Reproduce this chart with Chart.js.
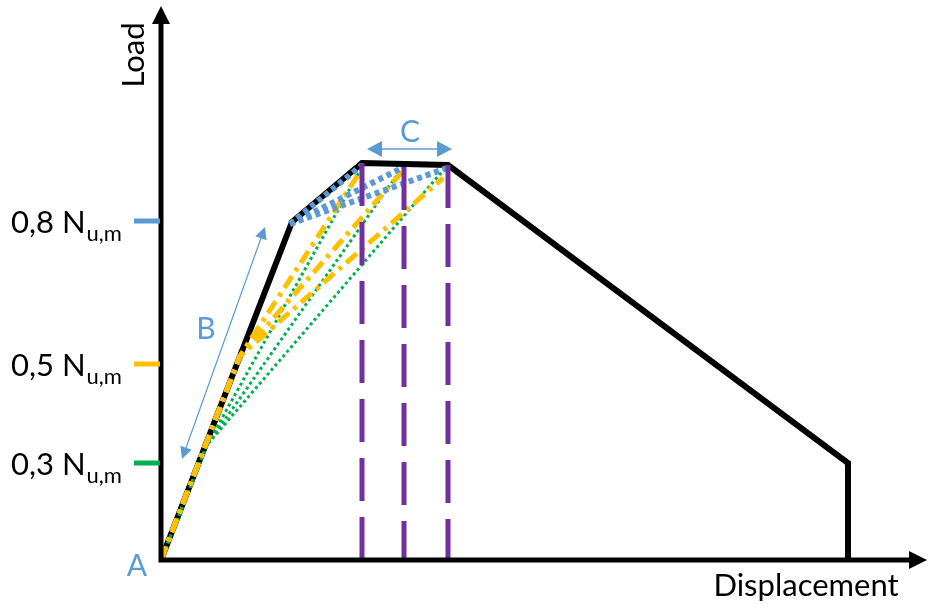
<!DOCTYPE html>
<html>
<head>
<meta charset="utf-8">
<script src="https://cdn.jsdelivr.net/npm/chart.js@4.4.1/dist/chart.umd.min.js"></script>
<style>
  html, body { margin: 0; padding: 0; background: #fff; }
  #wrap { width: 928px; height: 608px; position: relative; }
</style>
</head>
<body>
<div id="wrap"><canvas id="loadChart"></canvas></div>
<script>
// Schematic load-displacement curve (arbitrary units)
const mainDisp = [0, 131, 201, 287, 687, 687];
const mainLoad = [0, 338, 397, 395, 97, 0];

// the three displacement levels at peak load
const peakDisp = [201, 243, 287];
const peakLoad = [397, 393, 395];

// secant lines from the origin
const greenVia = [46, 115];
const greenEndDisp = [201, 241, 285];
const greenEndLoad = [393, 392, 393];

const yellowVia = [79, 204];
const yellowEndDisp = [199, 241, 282];
const yellowEndLoad = [388, 388, 382];

const blueStart = [129, 336];
const blueEndDisp = [201, 241, 286];
const blueEndLoad = [395, 392, 392];

// load tick labels
const tickLoad = [339, 196, 97];
const tickText = ['0,8 N', '0,5 N', '0,3 N'];
const tickSub = 'u,m';
const tickColors = ['#5B9BD5', '#FFC000', '#00B050'];

// annotation arrows B and C
const arrowB = [[21, 101], [104, 333]];
const arrowC = [[206, 411], [291, 411]];

const BLUE = '#5B9BD5';
const FONT = 'Lato, "Open Sans", sans-serif';

function pts(xs, ys) {
    return xs.map((x, i) => ({ x: x, y: ys[i] }));
}

const datasets = [];

// purple dashed verticals
peakDisp.forEach((d, i) => {
    datasets.push({
        data: [{ x: d, y: peakLoad[i] }, { x: d, y: 0 }],
        borderColor: '#7030A0', borderWidth: 5, borderDash: [43, 16], order: 1
    });
});

// blue dotted
blueEndDisp.forEach((d, i) => {
    datasets.push({
        data: [{ x: blueStart[0], y: blueStart[1] }, { x: d, y: blueEndLoad[i] }],
        borderColor: BLUE, borderWidth: 6, borderDash: [5, 4], order: 2
    });
});

// yellow dash-dot
yellowEndDisp.forEach((d, i) => {
    datasets.push({
        data: [{ x: 0, y: 0 }, { x: yellowVia[0], y: yellowVia[1] }, { x: d, y: yellowEndLoad[i] }],
        borderColor: '#FFC000', borderWidth: 5, borderDash: [14, 6, 4, 6], order: 3
    });
});

// green dotted
greenEndDisp.forEach((d, i) => {
    datasets.push({
        data: [{ x: 0, y: 0 }, { x: greenVia[0], y: greenVia[1] }, { x: d, y: greenEndLoad[i] }],
        borderColor: '#00B050', borderWidth: 3, borderDash: [3, 3], order: 4
    });
});

// main curve
datasets.push({
    data: pts(mainDisp, mainLoad),
    borderColor: '#000', borderWidth: 6, order: 5
});

function arrowHead(ctx, x0, y0, x1, y1, len, half) {
    const a = Math.atan2(y1 - y0, x1 - x0);
    ctx.beginPath();
    ctx.moveTo(x1, y1);
    ctx.lineTo(x1 - len * Math.cos(a) + half * Math.sin(a), y1 - len * Math.sin(a) - half * Math.cos(a));
    ctx.lineTo(x1 - len * Math.cos(a) - half * Math.sin(a), y1 - len * Math.sin(a) + half * Math.cos(a));
    ctx.closePath();
    ctx.fill();
}

function doubleArrow(ctx, p, q, width, len, half) {
    ctx.strokeStyle = BLUE;
    ctx.fillStyle = BLUE;
    ctx.lineWidth = width;
    const a = Math.atan2(q[1] - p[1], q[0] - p[0]);
    ctx.beginPath();
    ctx.moveTo(p[0] + len * 0.8 * Math.cos(a), p[1] + len * 0.8 * Math.sin(a));
    ctx.lineTo(q[0] - len * 0.8 * Math.cos(a), q[1] - len * 0.8 * Math.sin(a));
    ctx.stroke();
    arrowHead(ctx, q[0], q[1], p[0], p[1], len, half);
    arrowHead(ctx, p[0], p[1], q[0], q[1], len, half);
}

const decorations = {
    id: 'decorations',
    afterDraw(chart) {
        const ctx = chart.ctx;
        const xs = chart.scales.x, ys = chart.scales.y;
        const ox = xs.getPixelForValue(0), oy = ys.getPixelForValue(0);
        ctx.save();

        // axes with arrows
        ctx.strokeStyle = '#000';
        ctx.fillStyle = '#000';
        ctx.lineWidth = 5;
        ctx.beginPath();
        ctx.moveTo(ox, oy);
        ctx.lineTo(ox, 20);
        ctx.moveTo(ox - 2.5, oy);
        ctx.lineTo(912, oy);
        ctx.stroke();
        arrowHead(ctx, ox, oy, ox, 6, 18, 9);
        arrowHead(ctx, ox, oy, 927, oy, 18, 9);

        // load ticks and labels
        tickLoad.forEach((v, i) => {
            const y = ys.getPixelForValue(v);
            ctx.fillStyle = tickColors[i];
            ctx.fillRect(ox - 27, y - 2.5, 26, 5);
            ctx.fillStyle = '#000';
            ctx.font = '31px ' + FONT;
            ctx.textAlign = 'left';
            ctx.textBaseline = 'alphabetic';
            ctx.fillText(tickText[i], 11, y + 12);
            const w = ctx.measureText(tickText[i]).width;
            ctx.font = '22px ' + FONT;
            ctx.fillText(tickSub, 11 + w + 1, y + 20);
        });

        // axis titles
        ctx.fillStyle = '#000';
        ctx.font = '31px ' + FONT;
        ctx.textAlign = 'center';
        ctx.textBaseline = 'middle';
        ctx.fillText('Displacement', 806, 586);
        ctx.save();
        ctx.translate(134, 55);
        ctx.rotate(-Math.PI / 2);
        ctx.fillText('Load', 0, 0);
        ctx.restore();

        // annotations
        const px = p => [xs.getPixelForValue(p[0]), ys.getPixelForValue(p[1])];
        doubleArrow(ctx, px(arrowB[0]), px(arrowB[1]), 1.2, 12, 6);
        doubleArrow(ctx, px(arrowC[0]), px(arrowC[1]), 1.5, 15, 8);

        ctx.fillStyle = BLUE;
        ctx.font = '30px ' + FONT;
        ctx.fillText('B', 206, 329);
        ctx.fillText('C', 410, 132);
        ctx.fillText('A', 137, 566);
        ctx.restore();
    }
};

new Chart(document.getElementById('loadChart'), {
    type: 'scatter',
    data: { datasets: datasets.map(d => Object.assign({
        showLine: true, pointRadius: 0, tension: 0, fill: false,
        borderCapStyle: 'butt', borderJoinStyle: 'miter'
    }, d)) },
    options: {
        responsive: true,
        maintainAspectRatio: false,
        animation: false,
        layout: { padding: { left: 161, right: 13, top: 10, bottom: 48 } },
        scales: {
            x: { type: 'linear', min: 0, max: 754, display: false },
            y: { type: 'linear', min: 0, max: 550, display: false }
        },
        plugins: {
            legend: { display: false },
            tooltip: { enabled: false }
        }
    },
    plugins: [decorations]
});
</script>
</body>
</html>
